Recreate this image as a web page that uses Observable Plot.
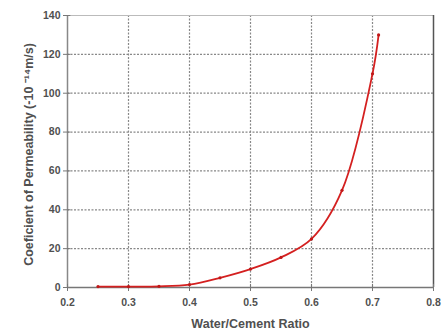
<!DOCTYPE html>
<html><head><meta charset="utf-8">
<script src="https://cdn.jsdelivr.net/npm/d3@7"></script>
<script src="https://cdn.jsdelivr.net/npm/@observablehq/plot@0.6"></script>
<style>body{margin:0;background:#fff}</style>
</head><body><div id="chart"></div>
<script>
const ratio = [0.25, 0.30, 0.35, 0.40, 0.45, 0.50, 0.55, 0.60, 0.65, 0.70, 0.71];
const permeability = [0.5, 0.5, 0.6, 1.5, 5, 9.5, 15.5, 25, 50, 110, 130];
const xTicks = [0.2, 0.3, 0.4, 0.5, 0.6, 0.7, 0.8];
const yTicks = [0, 20, 40, 60, 80, 100, 120, 140];
const xLabel = "Water/Cement Ratio";
const yLabel = "Coeficient of Permeability (-10 \u207B\u00B9\u2074m/s)";
const data = ratio.map((r, i) => ({r, p: permeability[i]}));
const chart = Plot.plot({
  width: 442, height: 333,
  marginLeft: 67, marginRight: 9, marginTop: 15, marginBottom: 46,
  style: {fontFamily: "Liberation Sans, Arial, sans-serif", fontWeight: "bold", color: "#505050", background: "#fff"},
  x: {type: "linear", domain: [0.2, 0.8]},
  y: {type: "linear", domain: [0, 140]},
  marks: [
    Plot.ruleX(xTicks.slice(1, -1), {x: d => d, stroke: "#888", strokeDasharray: "2,1.5", strokeWidth: 1.2}),
    Plot.ruleY(yTicks.slice(1, -1), {y: d => d, stroke: "#888", strokeDasharray: "2,1.5", strokeWidth: 1.2}),
    Plot.ruleY([140], {y: d => d, stroke: "#bbb", strokeWidth: 1}),
    Plot.ruleX([0.8], {x: d => d, stroke: "#555", strokeWidth: 1.5}),
    Plot.ruleX([0.2], {x: d => d, stroke: "#888", strokeWidth: 1.5}),
    Plot.ruleY([0], {y: d => d, stroke: "#777", strokeWidth: 1.5}),
    Plot.ruleX(xTicks, {x: d => d, y1: 0, y2: 1.6, stroke: "#777"}),
    Plot.ruleY(yTicks, {y: d => d, x1: 0.2, x2: 0.2055, stroke: "#777"}),
    Plot.axisX({ticks: xTicks, tickFormat: d3.format(".1f"), tickSize: 4, tickPadding: 7, fontSize: 10.5, label: null, fill: "#505050", stroke: "#777"}),
    Plot.axisY({ticks: yTicks, tickSize: 4, tickPadding: 3, fontSize: 10.5, label: null, fill: "#505050", stroke: "#777"}),
    Plot.line(data, {x: "r", y: "p", stroke: "#d42020", strokeWidth: 1.8, curve: "catmull-rom"}),
    Plot.dot(data, {x: "r", y: "p", r: 1.6, fill: "#c01818"}),
    Plot.text([xLabel], {frameAnchor: "bottom", dy: 40, fontSize: 12.5, fill: "#505050"}),
    Plot.text([yLabel], {frameAnchor: "left", textAnchor: "middle", dx: -39, dy: 3, rotate: -90, fontSize: 12.5, fill: "#505050"})
  ]
});
document.getElementById("chart").appendChild(chart);
</script></body></html>
